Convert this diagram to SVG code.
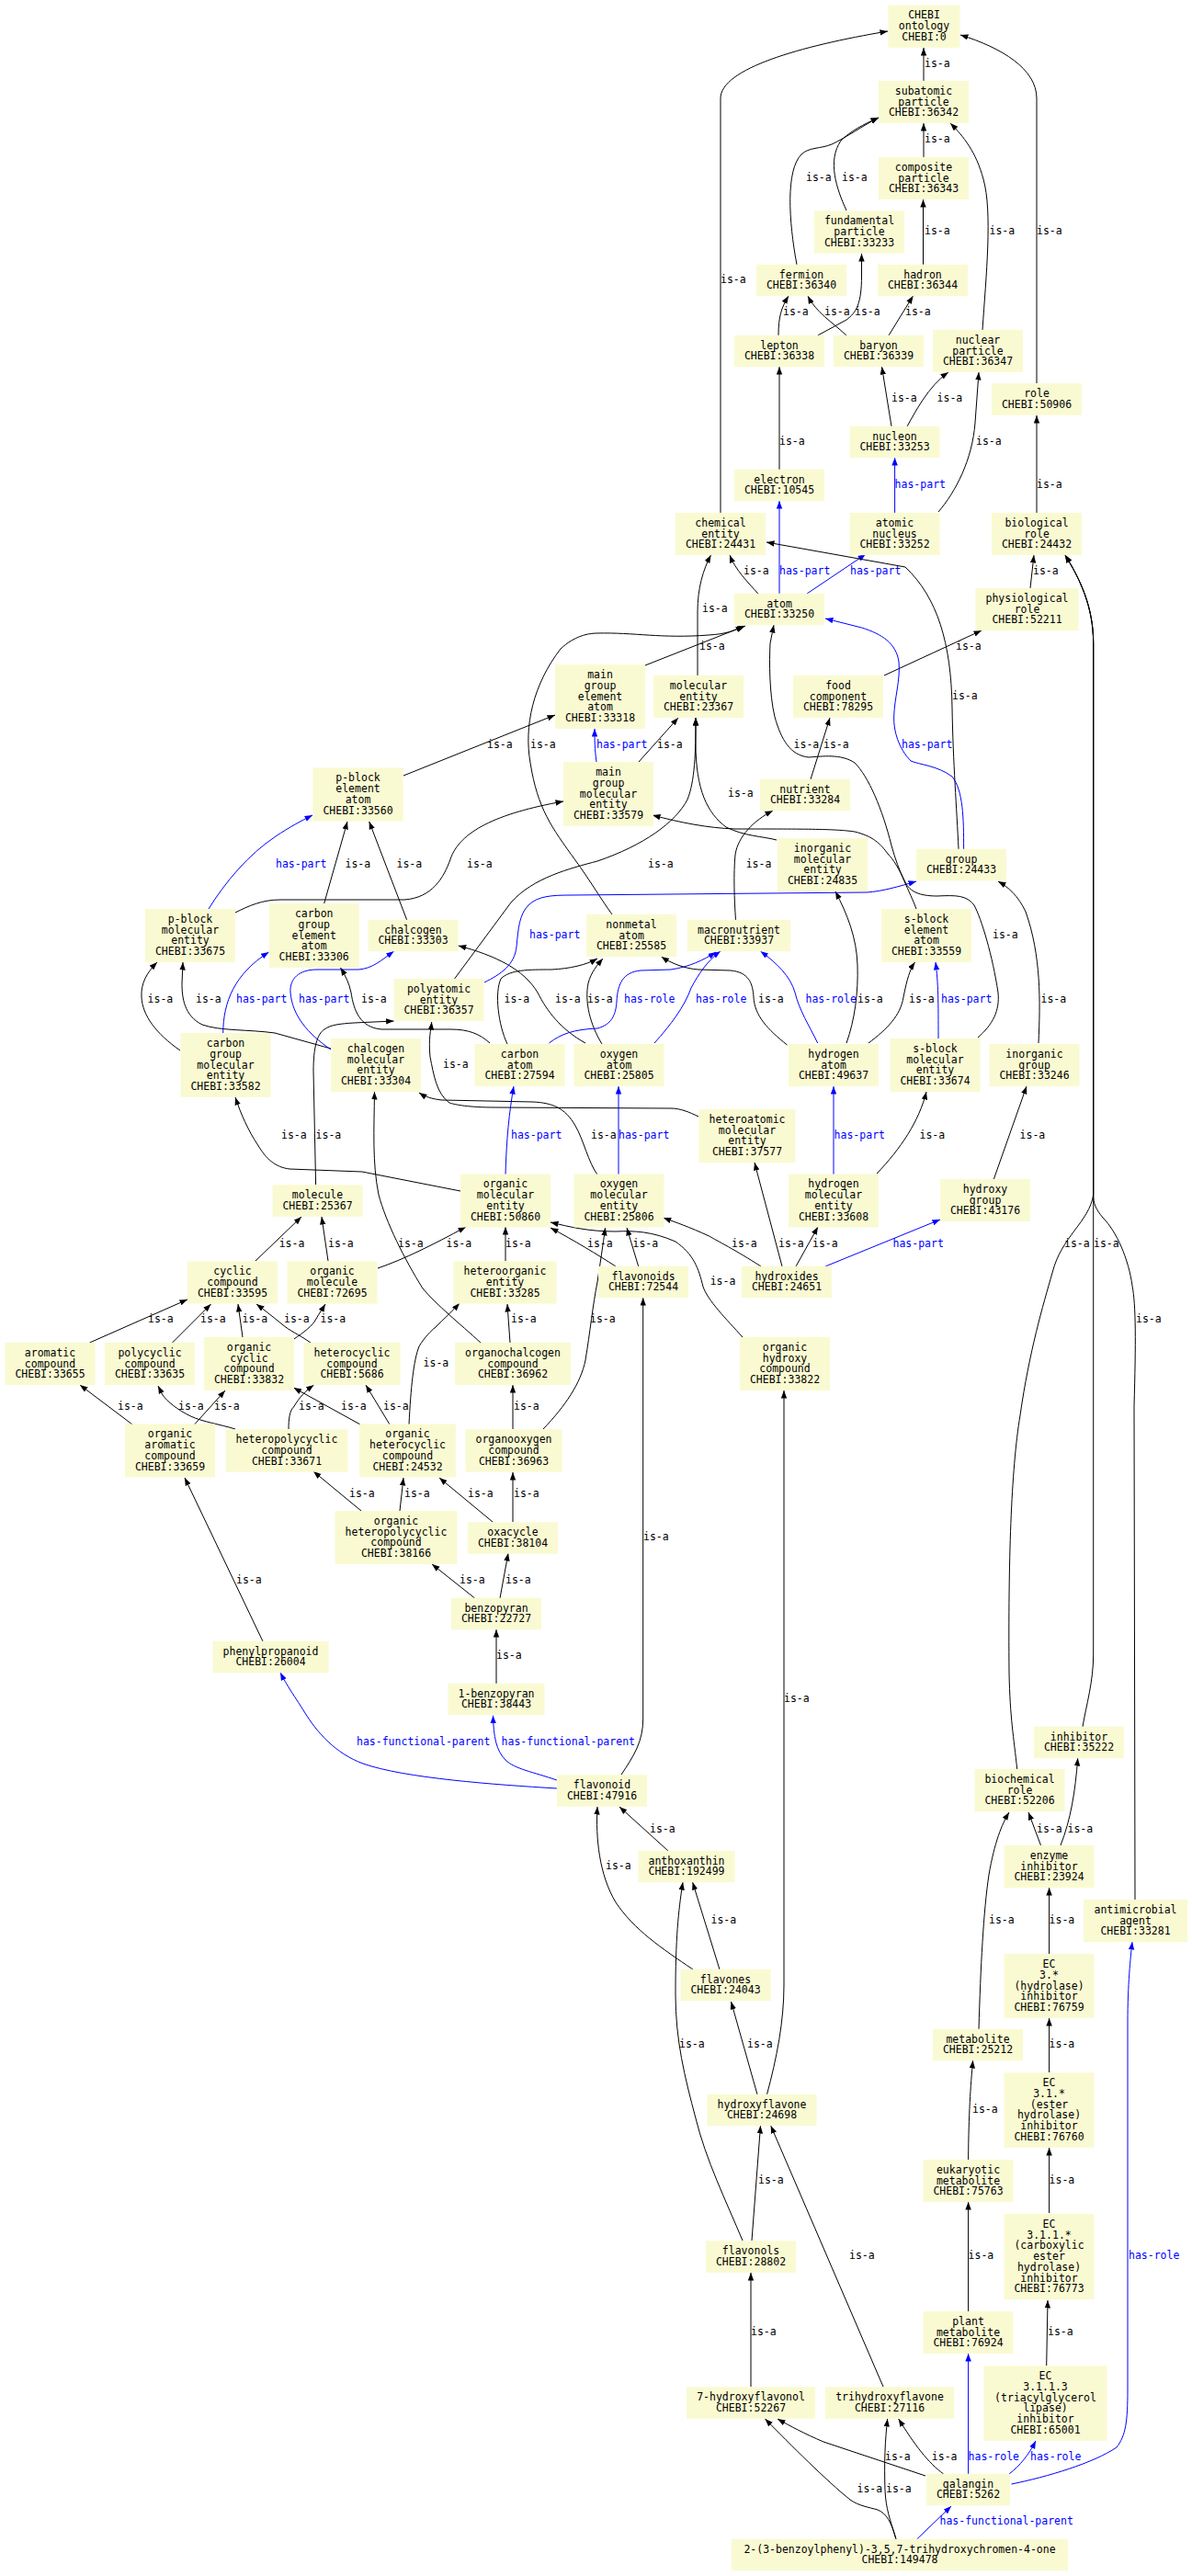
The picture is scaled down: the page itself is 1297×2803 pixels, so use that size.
<svg xmlns="http://www.w3.org/2000/svg" width="1297" height="2803" viewBox="0 0 1297 2803">
<style>
text{font-family:"DejaVu Sans Mono","Liberation Mono",monospace;font-size:11.5px}
.n rect{fill:#fafad2}
.n text{text-anchor:middle;fill:#000}
.e{fill:none;stroke:#000;stroke-width:1;marker-end:url(#ak)}
.b{stroke:#0000ff;marker-end:url(#ab)}
.l{fill:#000}
.lb{fill:#0000ff}
</style>
<defs>
<marker id="ak" markerUnits="userSpaceOnUse" markerWidth="9" markerHeight="7" refX="8.5" refY="3.2" orient="auto"><path d="M0,0 L8.5,3.2 L0,6.4 z" fill="#000"/></marker>
<marker id="ab" markerUnits="userSpaceOnUse" markerWidth="9" markerHeight="7" refX="8.5" refY="3.2" orient="auto"><path d="M0,0 L8.5,3.2 L0,6.4 z" fill="#0000ff"/></marker>
</defs>
<rect width="1297" height="2803" fill="#fff"/>
<g id="edges">
<path class="e" d="M1005,88 L1005,52"/>
<path class="e" d="M784,558 L784,107 C784,75 870,50 966,34"/>
<path class="e" d="M1128,417 L1128,107 C1128,75 1090,52 1045,38"/>
<path class="e" d="M1005,171 L1005,134"/>
<path class="e" d="M867,288 C858,240 855,185 872,168 C880,160 893,162 905,157 C920,150 940,136 956,128"/>
<path class="e" d="M921,229 C910,205 900,175 915,153 C925,143 940,135 956,128"/>
<path class="e" d="M1004.5,288 L1004.5,217"/>
<path class="e" d="M1069,359 C1073,300 1080,230 1070,195 C1062,165 1048,148 1034,134"/>
<path class="e" d="M847,365 C847,345 850,335 858,322"/>
<path class="e" d="M921,365 C905,350 888,340 879,322"/>
<path class="e" d="M889.7,365 L921,348 C932,340 937.5,330 937.5,300 L937.5,276"/>
<path class="e" d="M967,365 L993.5,322"/>
<path class="e" d="M970,464 L959.5,399"/>
<path class="e" d="M987,464 C995,450 1010,420 1032,405"/>
<path class="e" d="M1021,557 C1040,535 1058,500 1061,460 L1065,405"/>
<path class="e" d="M848,511 L848,399"/>
<path class="e" d="M1128,558 L1128,452"/>
<path class="e b" d="M973.6,558 L973.6,498"/>
<path class="e b" d="M848,646 L848,545"/>
<path class="e b" d="M878,646 L942,603"/>
<path class="e" d="M825,646 C815,635 800,620 794,604"/>
<path class="e" d="M759,735 L759,666 C759,640 765,620 773.5,604"/>
<path class="e" d="M1043,924 C1041,880 1037,830 1036,770 C1035,700 1020,650 985,617 L834,590"/>
<path class="e" d="M702,724 L811,681"/>
<path class="e" d="M666,995 C655,980 640,955 626,936 C600,900 585,880 577,830 C570,790 580,745 610,706 C625,692 640,689 650,689 C690,688 720,695 771,691 C790,690 800,686 809,681"/>
<path class="e b" d="M649,829 C647,815 647,805 647,793"/>
<path class="e" d="M695,829 L738,781"/>
<path class="e" d="M845,914 C830,910 810,910 790,900 C770,885 757,860 757,809 L757,781"/>
<path class="e" d="M494.6,1065 L556,982 C580,955 620,945 650,937 C700,920 735,895 748,870 C756,850 757,820 757,781"/>
<path class="e" d="M439,844 L604,778"/>
<path class="e b" d="M227,989 C245,960 270,930 300,910 C315,900 328,893 340,887"/>
<path class="e" d="M352.7,983 L378,894"/>
<path class="e" d="M442.7,1001 L401.7,894"/>
<path class="e" d="M256,993 C270,986 285,979 305,979 L440,979 C470,977 483,955 490,935 C500,905 540,885 613,872"/>
<path class="e" d="M196,1143 C170,1125 155,1105 154,1085 C153,1070 160,1058 171,1047"/>
<path class="e" d="M360,1141 L299,1124 C270,1120 240,1122 220,1115 C200,1105 198,1085 198,1070 L199,1047"/>
<path class="e b" d="M242.7,1124 C243,1090 255,1060 292.5,1036"/>
<path class="e b" d="M360,1142 C335,1125 318,1105 316,1080 C315,1065 325,1055 345,1055 L390,1055 C405,1054 415,1045 428.6,1035"/>
<path class="e" d="M533,1135 C522,1125 510,1120 490,1120 L415,1120 C392,1118 385,1100 382,1080 C380,1070 376,1062 370.5,1053"/>
<path class="e" d="M552,1136 C542,1115 538,1080 545,1065 C555,1055 575,1055 600,1055 C620,1054 638,1050 650,1043"/>
<path class="e" d="M637,1135 C610,1120 595,1100 585,1080 C570,1055 540,1040 498.7,1029"/>
<path class="e" d="M655,1136 C642,1115 636,1090 640,1070 C643,1058 650,1050 656,1043"/>
<path class="e b" d="M597.5,1135 C610,1125 625,1120 650,1119 C665,1115 670,1105 671,1090 C672,1070 678,1058 697,1056 L730,1055 C750,1052 765,1045 779,1036"/>
<path class="e b" d="M712,1135 C730,1115 745,1095 752,1075 C760,1060 770,1045 784,1035"/>
<path class="e" d="M856.5,1137 C835,1120 821,1105 820,1085 C819,1070 815,1058 795,1056 L760,1055 C745,1054 730,1048 719.6,1041"/>
<path class="e b" d="M889.7,1135 C880,1115 870,1100 865,1080 C860,1062 845,1048 827.5,1035"/>
<path class="e" d="M921,1135 C930,1110 934,1080 933,1050 C932,1020 922,995 909,970"/>
<path class="e" d="M945,1135 C965,1120 980,1105 983,1085 C987,1065 990,1055 995.5,1047"/>
<path class="e b" d="M1021,1130 C1021,1090 1021,1070 1018,1047"/>
<path class="e" d="M1130,1135 C1132,1090 1133,1040 1116,992 C1108,975 1097,965 1086,959"/>
<path class="e b" d="M527,1069 C545,1060 560,1050 562,1030 C564,1010 565,995 575,985 C585,975 600,974 622,974 L943,971 C960,970 980,964 997,959"/>
<path class="e" d="M760,1215 C750,1210 740,1206 730,1206 L539,1205 C510,1205 495,1202 489,1200 C475,1190 472,1170 468,1150 C466,1130 469,1120 469.7,1112"/>
<path class="e" d="M650.6,1279 C640,1265 635,1240 626,1225 C615,1205 600,1200 580,1199 L481,1197 C470,1196 462,1193 456,1189"/>
<path class="e" d="M343.6,1289 L341,1165 C341,1140 345,1125 353,1120 C360,1115 370,1114 385,1113 L428.6,1111"/>
<path class="e" d="M501,1296 L394,1275 L315,1272 C300,1270 290,1262 280,1245 C270,1230 262,1212 256,1194"/>
<path class="e" d="M523,1461 C500,1440 475,1420 460,1402 C440,1370 420,1330 412,1300 C405,1265 407,1230 407.5,1188"/>
<path class="e" d="M411,1380 C440,1370 470,1355 507,1335"/>
<path class="e" d="M550,1372 L550,1335"/>
<path class="e b" d="M550,1278 C551,1240 554,1210 559,1182"/>
<path class="e" d="M278,1372 L328,1324"/>
<path class="e" d="M357,1372 L350,1324"/>
<path class="e" d="M670,1378 C650,1365 625,1350 599,1336"/>
<path class="e" d="M808,1455 C790,1435 770,1415 765,1400 C760,1380 755,1365 735,1351 C710,1340 690,1339 670,1340 C640,1340 620,1335 599,1330"/>
<path class="e" d="M694.7,1378 L682,1336"/>
<path class="e" d="M591,1555 C615,1530 632,1505 637,1480 C642,1450 645,1420 650,1395 C653,1375 656,1355 658.6,1336"/>
<path class="e" d="M828,1378 C800,1360 780,1350 771.5,1345 C750,1335 735,1330 721.7,1325"/>
<path class="e" d="M851,1378 L821,1265"/>
<path class="e" d="M866,1378 L890,1335"/>
<path class="e b" d="M898,1378 L1023,1327"/>
<path class="e b" d="M907,1278 L907,1182"/>
<path class="e" d="M954,1277 C980,1250 1000,1220 1008,1188"/>
<path class="e" d="M1081,1284 L1117,1182"/>
<path class="e b" d="M673,1278 L673,1182"/>
<path class="e" d="M97.5,1461 L204,1414"/>
<path class="e" d="M187.5,1461 L229.5,1419"/>
<path class="e" d="M264,1455 L259,1419"/>
<path class="e" d="M338,1461 C325,1452 315,1448 307,1441 C296,1432 287,1425 279,1419"/>
<path class="e" d="M320,1457 C330,1450 340,1443 344,1435 C348,1428 351,1424 354,1419"/>
<path class="e" d="M445,1550 C447,1510 450,1480 456,1465 C462,1455 470,1447 473,1445 C483,1435 492,1427 500,1418"/>
<path class="e" d="M555,1461 L552,1419"/>
<path class="e" d="M144,1550 L87,1507"/>
<path class="e" d="M256,1555 C240,1550 220,1547 207.5,1541 C193,1534 182,1525 177,1518 L172,1508"/>
<path class="e" d="M211.6,1550 L245,1513"/>
<path class="e" d="M314,1555 C314,1545 315,1535 319.5,1531 C326,1520 333,1513 341.5,1507"/>
<path class="e" d="M392,1550 L319.5,1510"/>
<path class="e" d="M424,1550 L398,1507"/>
<path class="e" d="M558,1555 L558,1507"/>
<path class="e" d="M393,1644 L341,1601"/>
<path class="e" d="M435,1644 L439,1608"/>
<path class="e" d="M536,1656 L478,1608"/>
<path class="e" d="M558,1656 L558,1602"/>
<path class="e" d="M516.6,1739 L470,1702"/>
<path class="e" d="M544,1739 L553,1690"/>
<path class="e" d="M540,1832 L540,1773"/>
<path class="e" d="M286,1786 L201,1608"/>
<path class="e" d="M834.5,2279 C845,2240 853,2200 853,2160 L853,1513"/>
<path class="e" d="M676,1931 C690,1910 699.7,1895 699.7,1870 L699.7,1412"/>
<path class="e b" d="M605.8,1946 C540,1942 440,1935 395,1919 C365,1908 345,1885 332,1864 C322,1848 312,1834 305,1820"/>
<path class="e b" d="M605.8,1937 C580,1928 560,1925 550,1915 C540,1905 537,1890 536.5,1866.7"/>
<path class="e" d="M727,2014 L674,1966"/>
<path class="e" d="M754,2143 C720,2120 690,2100 670,2070 C652,2040 648,2000 650,1966"/>
<path class="e" d="M783,2143 L753.6,2048"/>
<path class="e" d="M808,2438 C790,2395 768,2350 757,2305 C745,2260 735,2220 735,2170 C735,2110 738,2080 743,2048"/>
<path class="e" d="M824,2279 L795.5,2178"/>
<path class="e" d="M818,2438 L827.5,2313"/>
<path class="e" d="M961,2597 L838.7,2313"/>
<path class="e" d="M817,2597 L817,2473"/>
<path class="e" d="M1007,2694 L896,2657 C875,2648 860,2640 846,2632"/>
<path class="e" d="M1026.7,2692 C1010,2680 995,2660 977.7,2632"/>
<path class="e" d="M975,2763 C970,2745 965,2735 955,2731 C945,2728 935,2727 925,2720 C900,2700 860,2660 832.5,2632"/>
<path class="e" d="M975,2763 C968,2740 964,2730 963,2710 C962,2680 963,2655 965.7,2632"/>
<path class="e b" d="M997.6,2763 L1035,2727"/>
<path class="e b" d="M1053.6,2692 L1053.6,2561"/>
<path class="e b" d="M1098,2692 C1110,2683 1120,2670 1127,2656"/>
<path class="e b" d="M1100.5,2703 C1140,2695 1190,2680 1215,2663 C1225,2650 1227,2635 1227,2600 L1227,2200 C1227,2160 1230,2130 1232,2113"/>
<path class="e" d="M1053.6,2515 L1053.6,2396"/>
<path class="e" d="M1053.6,2350 C1054,2300 1056,2270 1058.6,2242"/>
<path class="e" d="M1065,2208 C1067,2140 1070,2080 1076,2040 C1082,2005 1090,1985 1098,1972"/>
<path class="e" d="M1132.5,2008 L1119,1972"/>
<path class="e" d="M1154,2008 C1165,1980 1170,1950 1172.7,1913"/>
<path class="e" d="M1141.6,2126 L1141.6,2054"/>
<path class="e" d="M1141.6,2255 L1141.6,2196"/>
<path class="e" d="M1141.6,2408 L1141.6,2337"/>
<path class="e" d="M1138.7,2574 L1140,2503"/>
<path class="e" d="M1106.7,1925 C1103,1890 1099,1870 1098,1820 C1097,1700 1100,1600 1110,1540 C1120,1470 1135,1420 1145,1385 C1155,1345 1185,1330 1189.7,1300 L1189.7,700 C1189.7,660 1175,630 1159,604"/>
<path class="e" d="M1178,1879 C1182,1855 1189.7,1830 1189.7,1800 L1189.7,700 C1189.7,660 1175,630 1159,604"/>
<path class="e" d="M1235,2067 L1234,1530 C1236,1460 1236,1420 1232,1399 C1228,1370 1215,1340 1200,1325 C1192,1315 1189.7,1310 1189.7,1300 L1189.7,700 C1189.7,660 1175,630 1159,604"/>
<path class="e" d="M1121,640 L1125,604"/>
<path class="e" d="M962,735 L1068,686"/>
<path class="e" d="M882,848 L903,781"/>
<path class="e" d="M800.5,1001 C799,980 798,950 800,930 C803,910 820,893 841,882"/>
<path class="e" d="M997,989 C990,970 978,950 970,920 C960,880 945,845 930,830 C915,820 895,823 880,824 C860,822 850,805 843,780 C837,755 837,720 838,700 L842,680"/>
<path class="e" d="M1064,1129 C1080,1115 1088,1100 1086,1080 C1080,1040 1068,1000 1060,985 C1052,974 1040,974 1020,975 C1000,975 990,970 985,960 C978,945 972,935 966,929 C958,918 950,910 930,905 C910,902 880,902 800,902 C770,901 740,895 710,887"/>
<path class="e b" d="M1048.6,924 C1048.6,890 1048,860 1036,845 C1020,833 1000,832 991,828 C978,815 972,795 972.7,780 C973,760 980,740 978,720 C975,700 960,690 937.5,683 L898,673"/>
<g class="labels">
<text class="l" x="1006" y="73">is-a</text>
<text class="l" x="784" y="308">is-a</text>
<text class="l" x="1128" y="255">is-a</text>
<text class="l" x="1006" y="155">is-a</text>
<text class="l" x="877" y="197">is-a</text>
<text class="l" x="916" y="197">is-a</text>
<text class="l" x="1006" y="255">is-a</text>
<text class="l" x="1076.5" y="255">is-a</text>
<text class="l" x="852" y="343">is-a</text>
<text class="l" x="897" y="343">is-a</text>
<text class="l" x="930" y="343">is-a</text>
<text class="l" x="985" y="343">is-a</text>
<text class="l" x="970" y="437">is-a</text>
<text class="l" x="1019.6" y="437">is-a</text>
<text class="l" x="1062" y="484">is-a</text>
<text class="l" x="848" y="484">is-a</text>
<text class="l" x="1128" y="531">is-a</text>
<text class="lb" x="973.6" y="531">has-part</text>
<text class="lb" x="848" y="625">has-part</text>
<text class="lb" x="925" y="625">has-part</text>
<text class="l" x="809" y="625">is-a</text>
<text class="l" x="764" y="666">is-a</text>
<text class="l" x="1036" y="761">is-a</text>
<text class="l" x="761" y="707">is-a</text>
<text class="l" x="577" y="814">is-a</text>
<text class="lb" x="649" y="814">has-part</text>
<text class="l" x="715" y="814">is-a</text>
<text class="l" x="792" y="867">is-a</text>
<text class="l" x="705" y="944">is-a</text>
<text class="l" x="530" y="814">is-a</text>
<text class="lb" x="300" y="944">has-part</text>
<text class="l" x="375.5" y="944">is-a</text>
<text class="l" x="431.5" y="944">is-a</text>
<text class="l" x="508" y="944">is-a</text>
<text class="l" x="160.6" y="1091">is-a</text>
<text class="l" x="213" y="1091">is-a</text>
<text class="lb" x="257" y="1091">has-part</text>
<text class="lb" x="325" y="1091">has-part</text>
<text class="l" x="393" y="1091">is-a</text>
<text class="l" x="548.5" y="1091">is-a</text>
<text class="l" x="604" y="1091">is-a</text>
<text class="l" x="639" y="1091">is-a</text>
<text class="lb" x="679" y="1091">has-role</text>
<text class="lb" x="757" y="1091">has-role</text>
<text class="l" x="825" y="1091">is-a</text>
<text class="lb" x="876.5" y="1091">has-role</text>
<text class="l" x="933" y="1091">is-a</text>
<text class="l" x="989" y="1091">is-a</text>
<text class="lb" x="1024" y="1091">has-part</text>
<text class="l" x="1132.5" y="1091">is-a</text>
<text class="lb" x="576" y="1021">has-part</text>
<text class="l" x="482" y="1162">is-a</text>
<text class="l" x="643" y="1239">is-a</text>
<text class="l" x="343.6" y="1239">is-a</text>
<text class="l" x="306" y="1239">is-a</text>
<text class="l" x="433" y="1357">is-a</text>
<text class="l" x="485.5" y="1357">is-a</text>
<text class="l" x="550" y="1357">is-a</text>
<text class="lb" x="556" y="1239">has-part</text>
<text class="l" x="303.7" y="1357">is-a</text>
<text class="l" x="357" y="1357">is-a</text>
<text class="l" x="639" y="1357">is-a</text>
<text class="l" x="772.7" y="1398">is-a</text>
<text class="l" x="688.5" y="1357">is-a</text>
<text class="l" x="642" y="1439">is-a</text>
<text class="l" x="796" y="1357">is-a</text>
<text class="l" x="847" y="1357">is-a</text>
<text class="l" x="884" y="1357">is-a</text>
<text class="lb" x="971.5" y="1357">has-part</text>
<text class="lb" x="907.6" y="1239">has-part</text>
<text class="l" x="1000.5" y="1239">is-a</text>
<text class="l" x="1109.6" y="1239">is-a</text>
<text class="lb" x="673" y="1239">has-part</text>
<text class="l" x="161" y="1439">is-a</text>
<text class="l" x="218" y="1439">is-a</text>
<text class="l" x="263.5" y="1439">is-a</text>
<text class="l" x="309" y="1439">is-a</text>
<text class="l" x="348.5" y="1439">is-a</text>
<text class="l" x="460.6" y="1487">is-a</text>
<text class="l" x="556" y="1439">is-a</text>
<text class="l" x="128" y="1534">is-a</text>
<text class="l" x="194" y="1534">is-a</text>
<text class="l" x="233" y="1534">is-a</text>
<text class="l" x="325" y="1534">is-a</text>
<text class="l" x="371" y="1534">is-a</text>
<text class="l" x="417" y="1534">is-a</text>
<text class="l" x="559" y="1534">is-a</text>
<text class="l" x="380" y="1629">is-a</text>
<text class="l" x="440" y="1629">is-a</text>
<text class="l" x="509" y="1629">is-a</text>
<text class="l" x="559" y="1629">is-a</text>
<text class="l" x="500" y="1723">is-a</text>
<text class="l" x="550" y="1723">is-a</text>
<text class="l" x="540" y="1805">is-a</text>
<text class="l" x="257" y="1723">is-a</text>
<text class="l" x="853" y="1852">is-a</text>
<text class="l" x="700" y="1676">is-a</text>
<text class="lb" x="388" y="1899">has-functional-parent</text>
<text class="lb" x="545.6" y="1899">has-functional-parent</text>
<text class="l" x="707" y="1994">is-a</text>
<text class="l" x="659" y="2034">is-a</text>
<text class="l" x="773.5" y="2093">is-a</text>
<text class="l" x="739" y="2228">is-a</text>
<text class="l" x="813" y="2228">is-a</text>
<text class="l" x="825" y="2376">is-a</text>
<text class="l" x="924" y="2458">is-a</text>
<text class="l" x="817" y="2541">is-a</text>
<text class="l" x="963" y="2677">is-a</text>
<text class="l" x="1013.8" y="2677">is-a</text>
<text class="l" x="932.5" y="2712">is-a</text>
<text class="l" x="964" y="2712">is-a</text>
<text class="lb" x="1022.5" y="2747">has-functional-parent</text>
<text class="lb" x="1053.6" y="2677">has-role</text>
<text class="lb" x="1121" y="2677">has-role</text>
<text class="lb" x="1228" y="2458">has-role</text>
<text class="l" x="1053.6" y="2458">is-a</text>
<text class="l" x="1058" y="2299">is-a</text>
<text class="l" x="1076" y="2093">is-a</text>
<text class="l" x="1128" y="1994">is-a</text>
<text class="l" x="1161.5" y="1994">is-a</text>
<text class="l" x="1141.6" y="2093">is-a</text>
<text class="l" x="1141.6" y="2228">is-a</text>
<text class="l" x="1141.6" y="2376">is-a</text>
<text class="l" x="1140" y="2541">is-a</text>
<text class="l" x="1158" y="1357">is-a</text>
<text class="l" x="1190" y="1357">is-a</text>
<text class="l" x="1236" y="1439">is-a</text>
<text class="l" x="1124" y="625">is-a</text>
<text class="l" x="1040" y="707">is-a</text>
<text class="l" x="896" y="814">is-a</text>
<text class="l" x="811.7" y="944">is-a</text>
<text class="l" x="863.6" y="814">is-a</text>
<text class="l" x="1080" y="1021">is-a</text>
<text class="lb" x="981" y="814">has-part</text>
</g>
</g>
<g id="n01" class="n" transform="translate(1005.5,28.7)"><rect x="-39" y="-23.1" width="78" height="46.25"/><text><tspan x="0" y="-8.25">CHEBI</tspan><tspan x="0" y="3.5">ontology</tspan><tspan x="0" y="15.25">CHEBI:0</tspan></text></g>
<g id="n02" class="n" transform="translate(1005,111)"><rect x="-49" y="-23.1" width="98" height="46.25"/><text><tspan x="0" y="-8.25">subatomic</tspan><tspan x="0" y="3.5">particle</tspan><tspan x="0" y="15.25">CHEBI:36342</tspan></text></g>
<g id="n03" class="n" transform="translate(1005,194)"><rect x="-49" y="-23.1" width="98" height="46.25"/><text><tspan x="0" y="-8.25">composite</tspan><tspan x="0" y="3.5">particle</tspan><tspan x="0" y="15.25">CHEBI:36343</tspan></text></g>
<g id="n04" class="n" transform="translate(935,252.5)"><rect x="-49" y="-23.1" width="98" height="46.25"/><text><tspan x="0" y="-8.25">fundamental</tspan><tspan x="0" y="3.5">particle</tspan><tspan x="0" y="15.25">CHEBI:33233</tspan></text></g>
<g id="n05" class="n" transform="translate(872,305)"><rect x="-49" y="-17.25" width="98" height="34.5"/><text><tspan x="0" y="-2.4">fermion</tspan><tspan x="0" y="9.4">CHEBI:36340</tspan></text></g>
<g id="n06" class="n" transform="translate(1004,305)"><rect x="-49" y="-17.25" width="98" height="34.5"/><text><tspan x="0" y="-2.4">hadron</tspan><tspan x="0" y="9.4">CHEBI:36344</tspan></text></g>
<g id="n07" class="n" transform="translate(848,382)"><rect x="-49" y="-17.25" width="98" height="34.5"/><text><tspan x="0" y="-2.4">lepton</tspan><tspan x="0" y="9.4">CHEBI:36338</tspan></text></g>
<g id="n08" class="n" transform="translate(956,382)"><rect x="-49" y="-17.25" width="98" height="34.5"/><text><tspan x="0" y="-2.4">baryon</tspan><tspan x="0" y="9.4">CHEBI:36339</tspan></text></g>
<g id="n09" class="n" transform="translate(1064,382)"><rect x="-49" y="-23.1" width="98" height="46.25"/><text><tspan x="0" y="-8.25">nuclear</tspan><tspan x="0" y="3.5">particle</tspan><tspan x="0" y="15.25">CHEBI:36347</tspan></text></g>
<g id="n10" class="n" transform="translate(1128,434.5)"><rect x="-49" y="-17.25" width="98" height="34.5"/><text><tspan x="0" y="-2.4">role</tspan><tspan x="0" y="9.4">CHEBI:50906</tspan></text></g>
<g id="n11" class="n" transform="translate(973.5,481)"><rect x="-49" y="-17.25" width="98" height="34.5"/><text><tspan x="0" y="-2.4">nucleon</tspan><tspan x="0" y="9.4">CHEBI:33253</tspan></text></g>
<g id="n12" class="n" transform="translate(848,528)"><rect x="-49" y="-17.25" width="98" height="34.5"/><text><tspan x="0" y="-2.4">electron</tspan><tspan x="0" y="9.4">CHEBI:10545</tspan></text></g>
<g id="n13" class="n" transform="translate(784,581)"><rect x="-49" y="-23.1" width="98" height="46.25"/><text><tspan x="0" y="-8.25">chemical</tspan><tspan x="0" y="3.5">entity</tspan><tspan x="0" y="15.25">CHEBI:24431</tspan></text></g>
<g id="n14" class="n" transform="translate(973.5,581)"><rect x="-49" y="-23.1" width="98" height="46.25"/><text><tspan x="0" y="-8.25">atomic</tspan><tspan x="0" y="3.5">nucleus</tspan><tspan x="0" y="15.25">CHEBI:33252</tspan></text></g>
<g id="n15" class="n" transform="translate(1128,581)"><rect x="-49" y="-23.1" width="98" height="46.25"/><text><tspan x="0" y="-8.25">biological</tspan><tspan x="0" y="3.5">role</tspan><tspan x="0" y="15.25">CHEBI:24432</tspan></text></g>
<g id="n16" class="n" transform="translate(848,663)"><rect x="-49" y="-17.25" width="98" height="34.5"/><text><tspan x="0" y="-2.4">atom</tspan><tspan x="0" y="9.4">CHEBI:33250</tspan></text></g>
<g id="n17" class="n" transform="translate(1117.5,663)"><rect x="-56" y="-23.1" width="112" height="46.25"/><text><tspan x="0" y="-8.25">physiological</tspan><tspan x="0" y="3.5">role</tspan><tspan x="0" y="15.25">CHEBI:52211</tspan></text></g>
<g id="n18" class="n" transform="translate(653,758)"><rect x="-49" y="-34.9" width="98" height="69.75"/><text><tspan x="0" y="-20">main</tspan><tspan x="0" y="-8.25">group</tspan><tspan x="0" y="3.5">element</tspan><tspan x="0" y="15.25">atom</tspan><tspan x="0" y="27">CHEBI:33318</tspan></text></g>
<g id="n19" class="n" transform="translate(760,758)"><rect x="-49" y="-23.1" width="98" height="46.25"/><text><tspan x="0" y="-8.25">molecular</tspan><tspan x="0" y="3.5">entity</tspan><tspan x="0" y="15.25">CHEBI:23367</tspan></text></g>
<g id="n20" class="n" transform="translate(912,758)"><rect x="-49" y="-23.1" width="98" height="46.25"/><text><tspan x="0" y="-8.25">food</tspan><tspan x="0" y="3.5">component</tspan><tspan x="0" y="15.25">CHEBI:78295</tspan></text></g>
<g id="n21" class="n" transform="translate(662,864)"><rect x="-49" y="-34.9" width="98" height="69.75"/><text><tspan x="0" y="-20">main</tspan><tspan x="0" y="-8.25">group</tspan><tspan x="0" y="3.5">molecular</tspan><tspan x="0" y="15.25">entity</tspan><tspan x="0" y="27">CHEBI:33579</tspan></text></g>
<g id="n22" class="n" transform="translate(876,865)"><rect x="-49" y="-17.25" width="98" height="34.5"/><text><tspan x="0" y="-2.4">nutrient</tspan><tspan x="0" y="9.4">CHEBI:33284</tspan></text></g>
<g id="n23" class="n" transform="translate(389.5,864.5)"><rect x="-49" y="-29" width="98" height="58"/><text><tspan x="0" y="-14.1">p-block</tspan><tspan x="0" y="-2.4">element</tspan><tspan x="0" y="9.4">atom</tspan><tspan x="0" y="21.1">CHEBI:33560</tspan></text></g>
<g id="n24" class="n" transform="translate(895,941)"><rect x="-49" y="-29" width="98" height="58"/><text><tspan x="0" y="-14.1">inorganic</tspan><tspan x="0" y="-2.4">molecular</tspan><tspan x="0" y="9.4">entity</tspan><tspan x="0" y="21.1">CHEBI:24835</tspan></text></g>
<g id="n25" class="n" transform="translate(1046,941)"><rect x="-49" y="-17.25" width="98" height="34.5"/><text><tspan x="0" y="-2.4">group</tspan><tspan x="0" y="9.4">CHEBI:24433</tspan></text></g>
<g id="n26" class="n" transform="translate(207,1018)"><rect x="-49" y="-29" width="98" height="58"/><text><tspan x="0" y="-14.1">p-block</tspan><tspan x="0" y="-2.4">molecular</tspan><tspan x="0" y="9.4">entity</tspan><tspan x="0" y="21.1">CHEBI:33675</tspan></text></g>
<g id="n27" class="n" transform="translate(341.7,1018)"><rect x="-49" y="-34.9" width="98" height="69.75"/><text><tspan x="0" y="-20">carbon</tspan><tspan x="0" y="-8.25">group</tspan><tspan x="0" y="3.5">element</tspan><tspan x="0" y="15.25">atom</tspan><tspan x="0" y="27">CHEBI:33306</tspan></text></g>
<g id="n28" class="n" transform="translate(449.5,1018)"><rect x="-49" y="-17.25" width="98" height="34.5"/><text><tspan x="0" y="-2.4">chalcogen</tspan><tspan x="0" y="9.4">CHEBI:33303</tspan></text></g>
<g id="n29" class="n" transform="translate(687,1018)"><rect x="-49" y="-23.1" width="98" height="46.25"/><text><tspan x="0" y="-8.25">nonmetal</tspan><tspan x="0" y="3.5">atom</tspan><tspan x="0" y="15.25">CHEBI:25585</tspan></text></g>
<g id="n30" class="n" transform="translate(804,1018)"><rect x="-56" y="-17.25" width="112" height="34.5"/><text><tspan x="0" y="-2.4">macronutrient</tspan><tspan x="0" y="9.4">CHEBI:33937</tspan></text></g>
<g id="n31" class="n" transform="translate(1008,1018)"><rect x="-49" y="-29" width="98" height="58"/><text><tspan x="0" y="-14.1">s-block</tspan><tspan x="0" y="-2.4">element</tspan><tspan x="0" y="9.4">atom</tspan><tspan x="0" y="21.1">CHEBI:33559</tspan></text></g>
<g id="n32" class="n" transform="translate(477.5,1088)"><rect x="-49" y="-23.1" width="98" height="46.25"/><text><tspan x="0" y="-8.25">polyatomic</tspan><tspan x="0" y="3.5">entity</tspan><tspan x="0" y="15.25">CHEBI:36357</tspan></text></g>
<g id="n33" class="n" transform="translate(245.5,1159)"><rect x="-49" y="-34.9" width="98" height="69.75"/><text><tspan x="0" y="-20">carbon</tspan><tspan x="0" y="-8.25">group</tspan><tspan x="0" y="3.5">molecular</tspan><tspan x="0" y="15.25">entity</tspan><tspan x="0" y="27">CHEBI:33582</tspan></text></g>
<g id="n34" class="n" transform="translate(409,1159)"><rect x="-49" y="-29" width="98" height="58"/><text><tspan x="0" y="-14.1">chalcogen</tspan><tspan x="0" y="-2.4">molecular</tspan><tspan x="0" y="9.4">entity</tspan><tspan x="0" y="21.1">CHEBI:33304</tspan></text></g>
<g id="n35" class="n" transform="translate(565.5,1159)"><rect x="-49" y="-23.1" width="98" height="46.25"/><text><tspan x="0" y="-8.25">carbon</tspan><tspan x="0" y="3.5">atom</tspan><tspan x="0" y="15.25">CHEBI:27594</tspan></text></g>
<g id="n36" class="n" transform="translate(673.5,1159)"><rect x="-49" y="-23.1" width="98" height="46.25"/><text><tspan x="0" y="-8.25">oxygen</tspan><tspan x="0" y="3.5">atom</tspan><tspan x="0" y="15.25">CHEBI:25805</tspan></text></g>
<g id="n37" class="n" transform="translate(907,1159)"><rect x="-49" y="-23.1" width="98" height="46.25"/><text><tspan x="0" y="-8.25">hydrogen</tspan><tspan x="0" y="3.5">atom</tspan><tspan x="0" y="15.25">CHEBI:49637</tspan></text></g>
<g id="n38" class="n" transform="translate(1017.5,1159)"><rect x="-49" y="-29" width="98" height="58"/><text><tspan x="0" y="-14.1">s-block</tspan><tspan x="0" y="-2.4">molecular</tspan><tspan x="0" y="9.4">entity</tspan><tspan x="0" y="21.1">CHEBI:33674</tspan></text></g>
<g id="n39" class="n" transform="translate(1125.5,1159)"><rect x="-49" y="-23.1" width="98" height="46.25"/><text><tspan x="0" y="-8.25">inorganic</tspan><tspan x="0" y="3.5">group</tspan><tspan x="0" y="15.25">CHEBI:33246</tspan></text></g>
<g id="n40" class="n" transform="translate(813,1236)"><rect x="-52.5" y="-29" width="105" height="58"/><text><tspan x="0" y="-14.1">heteroatomic</tspan><tspan x="0" y="-2.4">molecular</tspan><tspan x="0" y="9.4">entity</tspan><tspan x="0" y="21.1">CHEBI:37577</tspan></text></g>
<g id="n41" class="n" transform="translate(345.5,1306.5)"><rect x="-49" y="-17.25" width="98" height="34.5"/><text><tspan x="0" y="-2.4">molecule</tspan><tspan x="0" y="9.4">CHEBI:25367</tspan></text></g>
<g id="n42" class="n" transform="translate(550,1306.5)"><rect x="-49" y="-29" width="98" height="58"/><text><tspan x="0" y="-14.1">organic</tspan><tspan x="0" y="-2.4">molecular</tspan><tspan x="0" y="9.4">entity</tspan><tspan x="0" y="21.1">CHEBI:50860</tspan></text></g>
<g id="n43" class="n" transform="translate(673.5,1306.5)"><rect x="-49" y="-29" width="98" height="58"/><text><tspan x="0" y="-14.1">oxygen</tspan><tspan x="0" y="-2.4">molecular</tspan><tspan x="0" y="9.4">entity</tspan><tspan x="0" y="21.1">CHEBI:25806</tspan></text></g>
<g id="n44" class="n" transform="translate(907,1306.5)"><rect x="-49" y="-29" width="98" height="58"/><text><tspan x="0" y="-14.1">hydrogen</tspan><tspan x="0" y="-2.4">molecular</tspan><tspan x="0" y="9.4">entity</tspan><tspan x="0" y="21.1">CHEBI:33608</tspan></text></g>
<g id="n45" class="n" transform="translate(1072,1306)"><rect x="-49" y="-23.1" width="98" height="46.25"/><text><tspan x="0" y="-8.25">hydroxy</tspan><tspan x="0" y="3.5">group</tspan><tspan x="0" y="15.25">CHEBI:43176</tspan></text></g>
<g id="n46" class="n" transform="translate(253,1395.5)"><rect x="-49" y="-23.1" width="98" height="46.25"/><text><tspan x="0" y="-8.25">cyclic</tspan><tspan x="0" y="3.5">compound</tspan><tspan x="0" y="15.25">CHEBI:33595</tspan></text></g>
<g id="n47" class="n" transform="translate(361.5,1395.5)"><rect x="-49" y="-23.1" width="98" height="46.25"/><text><tspan x="0" y="-8.25">organic</tspan><tspan x="0" y="3.5">molecule</tspan><tspan x="0" y="15.25">CHEBI:72695</tspan></text></g>
<g id="n48" class="n" transform="translate(549.5,1395.5)"><rect x="-56" y="-23.1" width="112" height="46.25"/><text><tspan x="0" y="-8.25">heteroorganic</tspan><tspan x="0" y="3.5">entity</tspan><tspan x="0" y="15.25">CHEBI:33285</tspan></text></g>
<g id="n49" class="n" transform="translate(700,1395)"><rect x="-49" y="-17.25" width="98" height="34.5"/><text><tspan x="0" y="-2.4">flavonoids</tspan><tspan x="0" y="9.4">CHEBI:72544</tspan></text></g>
<g id="n50" class="n" transform="translate(856,1395)"><rect x="-49" y="-17.25" width="98" height="34.5"/><text><tspan x="0" y="-2.4">hydroxides</tspan><tspan x="0" y="9.4">CHEBI:24651</tspan></text></g>
<g id="n51" class="n" transform="translate(54.5,1484)"><rect x="-49" y="-23.1" width="98" height="46.25"/><text><tspan x="0" y="-8.25">aromatic</tspan><tspan x="0" y="3.5">compound</tspan><tspan x="0" y="15.25">CHEBI:33655</tspan></text></g>
<g id="n52" class="n" transform="translate(163,1484)"><rect x="-49" y="-23.1" width="98" height="46.25"/><text><tspan x="0" y="-8.25">polycyclic</tspan><tspan x="0" y="3.5">compound</tspan><tspan x="0" y="15.25">CHEBI:33635</tspan></text></g>
<g id="n53" class="n" transform="translate(271,1484)"><rect x="-49" y="-29" width="98" height="58"/><text><tspan x="0" y="-14.1">organic</tspan><tspan x="0" y="-2.4">cyclic</tspan><tspan x="0" y="9.4">compound</tspan><tspan x="0" y="21.1">CHEBI:33832</tspan></text></g>
<g id="n54" class="n" transform="translate(383,1484)"><rect x="-52.5" y="-23.1" width="105" height="46.25"/><text><tspan x="0" y="-8.25">heterocyclic</tspan><tspan x="0" y="3.5">compound</tspan><tspan x="0" y="15.25">CHEBI:5686</tspan></text></g>
<g id="n55" class="n" transform="translate(558,1484)"><rect x="-63" y="-23.1" width="126" height="46.25"/><text><tspan x="0" y="-8.25">organochalcogen</tspan><tspan x="0" y="3.5">compound</tspan><tspan x="0" y="15.25">CHEBI:36962</tspan></text></g>
<g id="n56" class="n" transform="translate(854,1484)"><rect x="-49" y="-29" width="98" height="58"/><text><tspan x="0" y="-14.1">organic</tspan><tspan x="0" y="-2.4">hydroxy</tspan><tspan x="0" y="9.4">compound</tspan><tspan x="0" y="21.1">CHEBI:33822</tspan></text></g>
<g id="n57" class="n" transform="translate(185,1578.5)"><rect x="-49" y="-29" width="98" height="58"/><text><tspan x="0" y="-14.1">organic</tspan><tspan x="0" y="-2.4">aromatic</tspan><tspan x="0" y="9.4">compound</tspan><tspan x="0" y="21.1">CHEBI:33659</tspan></text></g>
<g id="n58" class="n" transform="translate(312,1578.5)"><rect x="-66.5" y="-23.1" width="133" height="46.25"/><text><tspan x="0" y="-8.25">heteropolycyclic</tspan><tspan x="0" y="3.5">compound</tspan><tspan x="0" y="15.25">CHEBI:33671</tspan></text></g>
<g id="n59" class="n" transform="translate(443.5,1578.5)"><rect x="-52.5" y="-29" width="105" height="58"/><text><tspan x="0" y="-14.1">organic</tspan><tspan x="0" y="-2.4">heterocyclic</tspan><tspan x="0" y="9.4">compound</tspan><tspan x="0" y="21.1">CHEBI:24532</tspan></text></g>
<g id="n60" class="n" transform="translate(559,1578.5)"><rect x="-52.5" y="-23.1" width="105" height="46.25"/><text><tspan x="0" y="-8.25">organooxygen</tspan><tspan x="0" y="3.5">compound</tspan><tspan x="0" y="15.25">CHEBI:36963</tspan></text></g>
<g id="n61" class="n" transform="translate(431,1673)"><rect x="-66.5" y="-29" width="133" height="58"/><text><tspan x="0" y="-14.1">organic</tspan><tspan x="0" y="-2.4">heteropolycyclic</tspan><tspan x="0" y="9.4">compound</tspan><tspan x="0" y="21.1">CHEBI:38166</tspan></text></g>
<g id="n62" class="n" transform="translate(558,1673.5)"><rect x="-49" y="-17.25" width="98" height="34.5"/><text><tspan x="0" y="-2.4">oxacycle</tspan><tspan x="0" y="9.4">CHEBI:38104</tspan></text></g>
<g id="n63" class="n" transform="translate(540,1756)"><rect x="-49" y="-17.25" width="98" height="34.5"/><text><tspan x="0" y="-2.4">benzopyran</tspan><tspan x="0" y="9.4">CHEBI:22727</tspan></text></g>
<g id="n64" class="n" transform="translate(294.5,1803)"><rect x="-63" y="-17.25" width="126" height="34.5"/><text><tspan x="0" y="-2.4">phenylpropanoid</tspan><tspan x="0" y="9.4">CHEBI:26004</tspan></text></g>
<g id="n65" class="n" transform="translate(540,1849)"><rect x="-52.5" y="-17.25" width="105" height="34.5"/><text><tspan x="0" y="-2.4">1-benzopyran</tspan><tspan x="0" y="9.4">CHEBI:38443</tspan></text></g>
<g id="n66" class="n" transform="translate(655,1948.5)"><rect x="-49" y="-17.25" width="98" height="34.5"/><text><tspan x="0" y="-2.4">flavonoid</tspan><tspan x="0" y="9.4">CHEBI:47916</tspan></text></g>
<g id="n67" class="n" transform="translate(1174,1896)"><rect x="-49" y="-17.25" width="98" height="34.5"/><text><tspan x="0" y="-2.4">inhibitor</tspan><tspan x="0" y="9.4">CHEBI:35222</tspan></text></g>
<g id="n68" class="n" transform="translate(1109.5,1948)"><rect x="-49" y="-23.1" width="98" height="46.25"/><text><tspan x="0" y="-8.25">biochemical</tspan><tspan x="0" y="3.5">role</tspan><tspan x="0" y="15.25">CHEBI:52206</tspan></text></g>
<g id="n69" class="n" transform="translate(747,2031)"><rect x="-52.5" y="-17.25" width="105" height="34.5"/><text><tspan x="0" y="-2.4">anthoxanthin</tspan><tspan x="0" y="9.4">CHEBI:192499</tspan></text></g>
<g id="n70" class="n" transform="translate(1141.5,2031)"><rect x="-49" y="-23.1" width="98" height="46.25"/><text><tspan x="0" y="-8.25">enzyme</tspan><tspan x="0" y="3.5">inhibitor</tspan><tspan x="0" y="15.25">CHEBI:23924</tspan></text></g>
<g id="n71" class="n" transform="translate(1235.5,2090)"><rect x="-56.5" y="-23.1" width="113" height="46.25"/><text><tspan x="0" y="-8.25">antimicrobial</tspan><tspan x="0" y="3.5">agent</tspan><tspan x="0" y="15.25">CHEBI:33281</tspan></text></g>
<g id="n72" class="n" transform="translate(789.5,2160)"><rect x="-49" y="-17.25" width="98" height="34.5"/><text><tspan x="0" y="-2.4">flavones</tspan><tspan x="0" y="9.4">CHEBI:24043</tspan></text></g>
<g id="n73" class="n" transform="translate(1141.5,2161)"><rect x="-49" y="-34.9" width="98" height="69.75"/><text><tspan x="0" y="-20">EC</tspan><tspan x="0" y="-8.25">3.*</tspan><tspan x="0" y="3.5">(hydrolase)</tspan><tspan x="0" y="15.25">inhibitor</tspan><tspan x="0" y="27">CHEBI:76759</tspan></text></g>
<g id="n74" class="n" transform="translate(1064,2225)"><rect x="-49" y="-17.25" width="98" height="34.5"/><text><tspan x="0" y="-2.4">metabolite</tspan><tspan x="0" y="9.4">CHEBI:25212</tspan></text></g>
<g id="n75" class="n" transform="translate(829,2296)"><rect x="-59.5" y="-17.25" width="119" height="34.5"/><text><tspan x="0" y="-2.4">hydroxyflavone</tspan><tspan x="0" y="9.4">CHEBI:24698</tspan></text></g>
<g id="n76" class="n" transform="translate(1141.5,2296)"><rect x="-49" y="-40.75" width="98" height="81.5"/><text><tspan x="0" y="-25.9">EC</tspan><tspan x="0" y="-14.1">3.1.*</tspan><tspan x="0" y="-2.4">(ester</tspan><tspan x="0" y="9.4">hydrolase)</tspan><tspan x="0" y="21.1">inhibitor</tspan><tspan x="0" y="32.9">CHEBI:76760</tspan></text></g>
<g id="n77" class="n" transform="translate(1053.5,2373)"><rect x="-49" y="-23.1" width="98" height="46.25"/><text><tspan x="0" y="-8.25">eukaryotic</tspan><tspan x="0" y="3.5">metabolite</tspan><tspan x="0" y="15.25">CHEBI:75763</tspan></text></g>
<g id="n78" class="n" transform="translate(1141.5,2455.5)"><rect x="-49" y="-46.6" width="98" height="93.25"/><text><tspan x="0" y="-31.75">EC</tspan><tspan x="0" y="-20">3.1.1.*</tspan><tspan x="0" y="-8.25">(carboxylic</tspan><tspan x="0" y="3.5">ester</tspan><tspan x="0" y="15.25">hydrolase)</tspan><tspan x="0" y="27">inhibitor</tspan><tspan x="0" y="38.75">CHEBI:76773</tspan></text></g>
<g id="n79" class="n" transform="translate(817,2455.5)"><rect x="-49" y="-17.25" width="98" height="34.5"/><text><tspan x="0" y="-2.4">flavonols</tspan><tspan x="0" y="9.4">CHEBI:28802</tspan></text></g>
<g id="n80" class="n" transform="translate(1053.5,2538)"><rect x="-49" y="-23.1" width="98" height="46.25"/><text><tspan x="0" y="-8.25">plant</tspan><tspan x="0" y="3.5">metabolite</tspan><tspan x="0" y="15.25">CHEBI:76924</tspan></text></g>
<g id="n81" class="n" transform="translate(1137.5,2615)"><rect x="-67" y="-40.75" width="134" height="81.5"/><text><tspan x="0" y="-25.9">EC</tspan><tspan x="0" y="-14.1">3.1.1.3</tspan><tspan x="0" y="-2.4">(triacylglycerol</tspan><tspan x="0" y="9.4">lipase)</tspan><tspan x="0" y="21.1">inhibitor</tspan><tspan x="0" y="32.9">CHEBI:65001</tspan></text></g>
<g id="n82" class="n" transform="translate(817,2614.5)"><rect x="-70" y="-17.25" width="140" height="34.5"/><text><tspan x="0" y="-2.4">7-hydroxyflavonol</tspan><tspan x="0" y="9.4">CHEBI:52267</tspan></text></g>
<g id="n83" class="n" transform="translate(968,2614.5)"><rect x="-70" y="-17.25" width="140" height="34.5"/><text><tspan x="0" y="-2.4">trihydroxyflavone</tspan><tspan x="0" y="9.4">CHEBI:27116</tspan></text></g>
<g id="n84" class="n" transform="translate(1053.5,2709)"><rect x="-45.5" y="-17.25" width="91" height="34.5"/><text><tspan x="0" y="-2.4">galangin</tspan><tspan x="0" y="9.4">CHEBI:5262</tspan></text></g>
<g id="n85" class="n" transform="translate(979,2780)"><rect x="-183" y="-17.25" width="366" height="34.5"/><text><tspan x="0" y="-2.4">2-(3-benzoylphenyl)-3,5,7-trihydroxychromen-4-one</tspan><tspan x="0" y="9.4">CHEBI:149478</tspan></text></g>
</svg>
